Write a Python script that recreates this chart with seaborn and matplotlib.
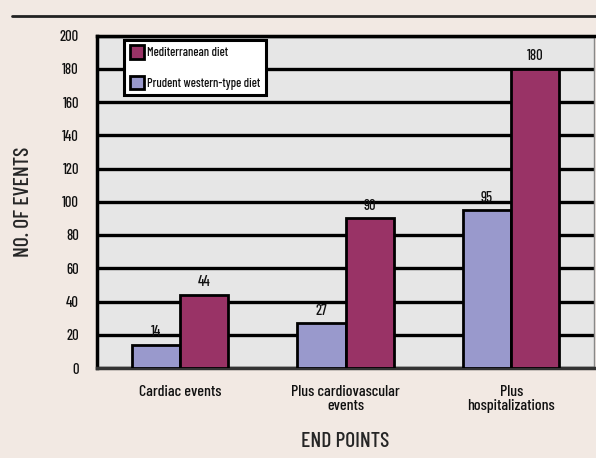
import matplotlib
matplotlib.use("Agg")
import matplotlib.pyplot as plt
import matplotlib.font_manager as fm
import seaborn as sns
import pandas as pd

categories = ["Cardiac events", "Plus cardiovascular\nevents", "Plus\nhospitalizations"]
prudent = [14, 27, 95]
mediterranean = [44, 90, 180]
series_names = ["Prudent western-type diet", "Mediterranean diet"]
y_ticks = [0, 20, 40, 60, 80, 100, 120, 140, 160, 180, 200]

sns.set_theme(style="white")
names = {f.name for f in fm.fontManager.ttflist}
fam = next((n for n in ["Barlow Condensed", "Archivo Narrow", "Asap Condensed"] if n in names), "DejaVu Sans")
plt.rcParams["font.family"] = [fam, "DejaVu Sans"]
plt.rcParams["font.weight"] = 500
plt.rcParams["axes.labelweight"] = 500
plt.rcParams["text.color"] = "#111111"

df = pd.DataFrame({
    "category": categories * 2,
    "diet": [series_names[0]] * 3 + [series_names[1]] * 3,
    "events": prudent + mediterranean,
})

bg = "#f2e9e3"
colors = {series_names[0]: "#9999cc", series_names[1]: "#993366"}

fig = plt.figure(figsize=(5.96, 4.58), dpi=100, facecolor=bg)
ax = fig.add_axes([97 / 596, 1 - 368 / 458, 497 / 596, (368 - 35.5) / 458])
ax.set_facecolor("#e6e6e6")

sns.barplot(data=df, x="category", y="events", hue="diet", order=categories,
            hue_order=series_names, palette=colors, width=0.58,
            edgecolor="black", linewidth=2, saturation=1, ax=ax, zorder=3)

ax.set_ylim(0, 200)
ax.set_xlim(-0.5, 2.5)
ax.set_yticks(y_ticks)
ax.set_yticklabels([str(v) for v in y_ticks], fontsize=10.5, color="#111111")
ax.yaxis.grid(True, color="black", linewidth=2.4, zorder=1)
ax.set_axisbelow(True)

# category labels centred, tick marks at group boundaries
ax.set_xticks([0, 1, 2])
ax.set_xticklabels(categories, fontsize=11.5, linespacing=1.0, color="#111111")
ax.tick_params(axis="x", length=0, pad=12)
ax.set_xticks([0.5, 1.5, 2.5], minor=True)
ax.tick_params(axis="x", which="minor", length=6, width=2, color="black", direction="out")
ax.tick_params(axis="y", length=6, width=2.5, color="black", direction="out", pad=7)

for spine in ax.spines.values():
    spine.set_visible(True)
ax.spines["left"].set_linewidth(2.5)
ax.spines["left"].set_color("black")
ax.spines["top"].set_linewidth(2.5)
ax.spines["top"].set_color("black")
ax.spines["bottom"].set_linewidth(2.5)
ax.spines["bottom"].set_color("#333333")
ax.spines["right"].set_linewidth(1)
ax.spines["right"].set_color("#888888")

for cont in ax.containers:
    ax.bar_label(cont, padding=4, fontsize=10.5)

ax.set_xlabel("END POINTS", fontsize=15.5, labelpad=14)
ax.set_ylabel("NO. OF EVENTS", fontsize=15.5, labelpad=19)

handles, labels = ax.get_legend_handles_labels()
order = [labels.index(series_names[1]), labels.index(series_names[0])]
leg = ax.legend([handles[i] for i in order], [labels[i] for i in order],
                loc="upper left", bbox_to_anchor=(0.05, 0.995), fontsize=9,
                frameon=True, fancybox=False, framealpha=1, edgecolor="black",
                handlelength=1.1, handleheight=1.3, handletextpad=0.3,
                labelspacing=1.3, borderpad=0.45, borderaxespad=0.2)
leg.get_frame().set_linewidth(2.2)
leg.set_zorder(5)

# rule below the header
fig.add_artist(plt.Line2D([12 / 596, 1], [1 - 15.5 / 458] * 2, color="#222222", linewidth=2))

fig.savefig("out.png", dpi=100, facecolor=bg)
